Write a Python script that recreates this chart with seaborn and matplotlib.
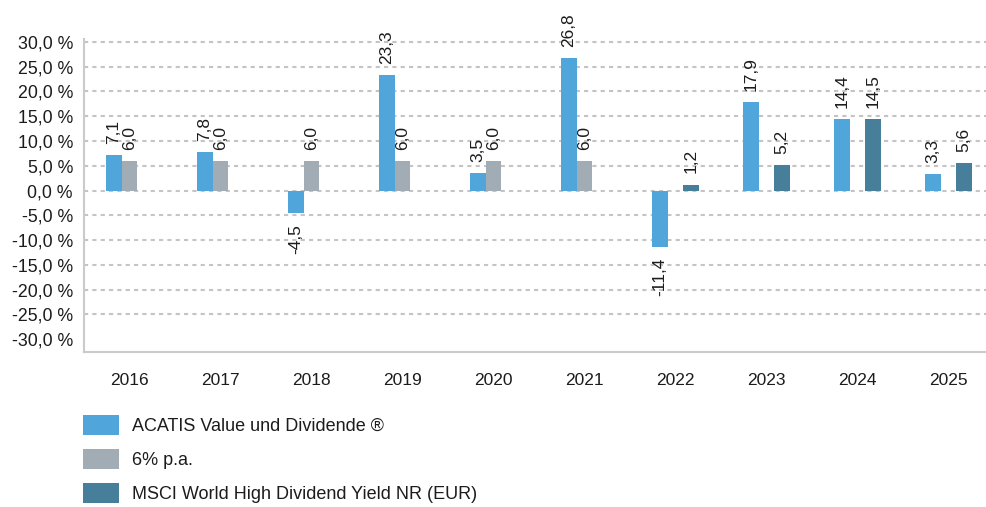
import matplotlib
matplotlib.use('Agg')
import matplotlib.pyplot as plt
import numpy as np
import pandas as pd
import seaborn as sns
from matplotlib.ticker import FixedLocator, FuncFormatter

YEARS = ['2016', '2017', '2018', '2019', '2020', '2021', '2022', '2023', '2024', '2025']
FUND = [7.1, 7.8, -4.5, 23.3, 3.5, 26.8, -11.4, 17.9, 14.4, 3.3]
BENCH_6PCT = [6.0, 6.0, 6.0, 6.0, 6.0, 6.0, np.nan, np.nan, np.nan, np.nan]
MSCI = [np.nan, np.nan, np.nan, np.nan, np.nan, np.nan, 1.2, 5.2, 14.5, 5.6]

SERIES = ['ACATIS Value und Dividende ®', '6% p.a.', 'MSCI World High Dividend Yield NR (EUR)']
COLORS = ['#50a5db', '#a2acb5', '#477f9a']

GRID = '#c4c4c4'
SPINE = '#cacaca'
TEXT = '#1c1c1c'


def build_frame():
    rows = []
    for name, values in zip(SERIES, [FUND, BENCH_6PCT, MSCI]):
        for year, v in zip(YEARS, values):
            rows.append({'year': year, 'series': name, 'value': v})
    return pd.DataFrame(rows)


def comma(v, digits=1):
    return f'{v:.{digits}f}'.replace('.', ',')


def main():
    sns.set_style('white')
    plt.rcParams['font.family'] = ['Liberation Sans', 'DejaVu Sans']

    df = build_frame()

    fig = plt.figure(figsize=(9.86, 5.07), dpi=100)
    ax = fig.add_axes([84 / 986, 155 / 507, 910 / 986, 313 / 507])

    sns.barplot(
        data=df, x='year', y='value', hue='series', order=YEARS, hue_order=SERIES,
        palette=dict(zip(SERIES, COLORS)), width=0.52, gap=0, saturation=1,
        errorbar=None, ax=ax, linewidth=0,
    )

    # value labels, rotated, comma decimals
    for container in ax.containers:
        labels = [comma(b.get_height()) for b in container]
        ax.bar_label(container, labels=labels, rotation=90, padding=8,
                     fontsize=12.5, color=TEXT)

    ax.set_ylim(-32.6, 30.6)
    ax.set_xlim(-0.5, len(YEARS) - 0.5)

    ax.yaxis.set_major_locator(FixedLocator(np.arange(-30, 31, 5)))
    ax.yaxis.set_major_formatter(FuncFormatter(lambda v, _: comma(v) + ' %'))
    ax.tick_params(axis='y', length=0, pad=8, labelsize=12.8, labelcolor=TEXT)
    ax.tick_params(axis='x', which='major', length=0, pad=15, labelsize=12.5, labelcolor=TEXT)

    # category separators
    ax.xaxis.set_minor_locator(FixedLocator(np.arange(-0.5, len(YEARS), 1.0)))
    ax.tick_params(axis='x', which='minor', direction='inout', length=15, width=1.5, color=SPINE)

    ax.yaxis.grid(True, color=GRID, linestyle=(0, (2, 2)), linewidth=1.5)
    ax.set_axisbelow(True)
    for line, v in zip(ax.get_ygridlines(), np.arange(-30, 31, 5)):
        if v == -30:
            line.set_visible(False)

    sns.despine(ax=ax, top=True, right=True)
    for side in ['left', 'bottom']:
        ax.spines[side].set_color(SPINE)
        ax.spines[side].set_linewidth(1.5)

    ax.set_xlabel('')
    ax.set_ylabel('')

    handles, labels = ax.get_legend_handles_labels()
    ax.get_legend().remove()
    fig.legend(
        handles, labels, loc='upper left', bbox_to_anchor=(83 / 986, 1 - 415 / 507),
        frameon=False, fontsize=13, handlelength=2.0, handleheight=1.33,
        handletextpad=0.72, labelspacing=0.78, borderpad=0, borderaxespad=0,
        labelcolor=TEXT,
    )

    fig.savefig('out.png', dpi=100)
    plt.close(fig)


if __name__ == '__main__':
    main()
